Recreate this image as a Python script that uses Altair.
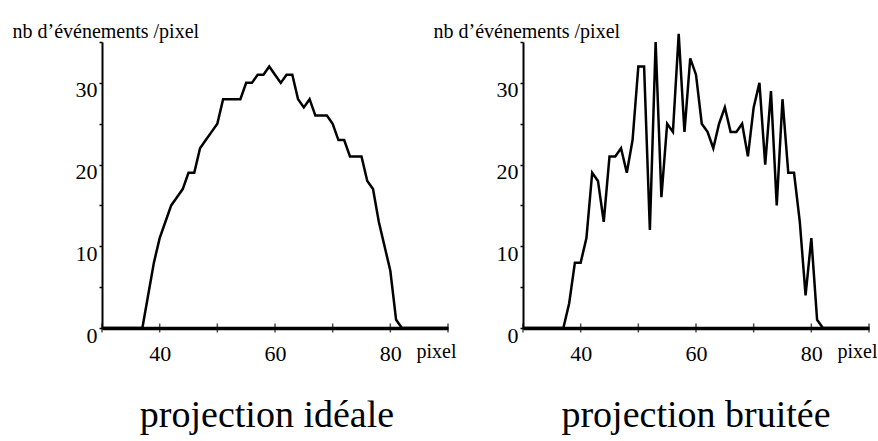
import altair as alt
import pandas as pd

# Detector pixel index (x) and event counts per pixel for the two projections
pixels = list(range(30, 91))

ideal_counts = (
    [0, 0, 0, 0, 0, 0, 0]
    + [0, 4, 8, 11, 13, 15, 16, 17, 19, 19, 22, 23, 24, 25, 28, 28, 28, 28,
       30, 30, 31, 31, 32, 31, 30, 31, 31, 28, 27, 28, 26, 26, 26, 25, 23,
       23, 21, 21, 21, 18, 17, 13, 10, 7, 1, 0]
    + [0, 0, 0, 0, 0, 0, 0, 0]
)

noisy_counts = (
    [0, 0, 0, 0, 0, 0, 0]
    + [0, 3, 8, 8, 11, 19, 18, 13, 21, 21, 22, 19, 23, 32, 32, 12, 35, 16,
       25, 24, 36, 24, 33, 31, 25, 24, 22, 25, 27, 24, 24, 25, 21, 27, 30,
       20, 29, 15, 28, 19, 19, 13, 4, 11, 1, 0]
    + [0, 0, 0, 0, 0, 0, 0, 0]
)

x_tick_values = [30, 40, 50, 60, 70, 80, 90]
x_label_values = [40, 60, 80]
y_tick_values = [0, 5, 10, 15, 20, 25, 30, 35]

panel_titles = ["projection idéale", "projection bruitée"]
y_title = "nb d’événements /pixel"
x_title = "pixel"

SERIF = "Liberation Serif"
W, H = 346, 286


def panel(counts, title, dx):
    df = pd.DataFrame({"pixel": pixels, "n": counts})

    x_enc = alt.X(
        "pixel:Q",
        scale=alt.Scale(domain=[30, 90], nice=False, zero=False),
        axis=alt.Axis(
            values=x_label_values,
            ticks=False,
            tickSize=0,
            grid=False,
            domainColor="black",
            domainWidth=3.5,
            labelFont=SERIF,
            labelFontSize=22,
            labelColor="black",
            labelBaseline="alphabetic",
            labelPadding=32,
            labelFlush=False,
            labelOverlap=False,
            title=x_title,
            titleFont=SERIF,
            titleFontSize=20,
            titleFontWeight="normal",
            titleColor="black",
            titleAlign="right",
            titleBaseline="alphabetic",
            titleX=W + 8,
            titleY=29,
        ),
    )
    y_enc = alt.Y(
        "n:Q",
        scale=alt.Scale(domain=[0, 35], nice=False),
        axis=alt.Axis(
            values=y_tick_values,
            labelExpr="datum.value % 10 == 0 ? datum.label : ''",
            grid=False,
            tickSize=3,
            tickColor="black",
            tickWidth=1.5,
            domainColor="black",
            domainWidth=2,
            labelFont=SERIF,
            labelFontSize=22,
            labelColor="black",
            labelBaseline="alphabetic",
            labelOffset=14,
            labelPadding=2,
            labelFlush=False,
            labelOverlap=False,
            title=y_title,
            titleFont=SERIF,
            titleFontSize=20,
            titleFontWeight="normal",
            titleColor="black",
            titleAngle=0,
            titleAlign="left",
            titleBaseline="alphabetic",
            titleX=-90,
            titleY=-5,
        ),
    )

    curve = (
        alt.Chart(df)
        .mark_line(color="black", strokeWidth=2.5, clip=False)
        .encode(x=x_enc, y=y_enc)
    )

    ticks_df = pd.DataFrame({"pixel": x_tick_values, "n": [0] * len(x_tick_values)})
    x_ticks = (
        alt.Chart(ticks_df)
        .mark_tick(color="black", thickness=1.5, size=9, orient="vertical")
        .encode(x="pixel:Q", y="n:Q")
    )

    return alt.layer(curve, x_ticks).properties(
        width=W,
        height=H,
        title=alt.TitleParams(
            title,
            orient="bottom",
            anchor="middle",
            frame="group",
            font=SERIF,
            fontSize=38,
            fontWeight="normal",
            color="black",
            baseline="top",
            offset=33,
            dx=dx,
        ),
    )


chart = (
    alt.hconcat(
        panel(ideal_counts, panel_titles[0], -8),
        panel(noisy_counts, panel_titles[1], 0),
        spacing=75,
        bounds="flush",
    )
    .properties(padding={"left": 12, "top": 21, "right": 0, "bottom": 0}, background="white")
    .configure_view(stroke=None)
)

chart.save("out.html", embed_options={"renderer": "svg", "actions": False})
